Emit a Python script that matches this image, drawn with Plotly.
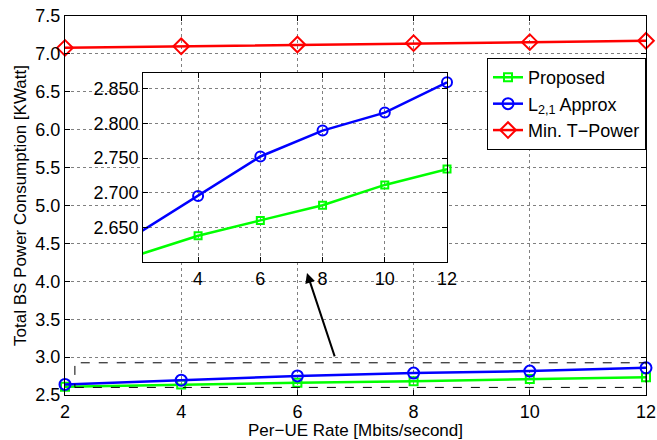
import plotly.graph_objects as go

# ---- data ----
rate = [2, 4, 6, 8, 10, 12]
proposed = [2.610, 2.6385, 2.6606, 2.6824, 2.7115, 2.7342]
l21_approx = [2.640, 2.6957, 2.7523, 2.7894, 2.8152, 2.8586]
min_t_power = [7.08, 7.10, 7.124, 7.142, 7.155, 7.173]

main_yticks = [2.5, 3.0, 3.5, 4.0, 4.5, 5.0, 5.5, 6.0, 6.5, 7.0, 7.5]
inset_yticks = [2.65, 2.70, 2.75, 2.80, 2.85]
inset_xticks = [4, 6, 8, 10, 12]

GREEN = "#00FF00"
BLUE = "#0000FF"
RED = "#FF0000"
FONT = "Liberation Sans"
FS = 18

fig = go.Figure()

series = [
    ("Proposed", proposed, GREEN, "square-open", 8),
    ("L<sub>2,1</sub> Approx", l21_approx, BLUE, "circle-open", 11),
    ("Min. T\u2212Power", min_t_power, RED, "diamond-open", 12),
]

for name, vals, col, sym, ms in series:
    fig.add_trace(go.Scatter(
        x=rate, y=vals, name=name, mode="lines+markers",
        line=dict(color=col, width=2.5),
        marker=dict(symbol=sym, size=ms, color=col, line=dict(color=col, width=2)),
        cliponaxis=False, xaxis="x", yaxis="y",
    ))

# inset (zoom of the two lower curves)
for name, vals, col, sym, ms in series[:2]:
    fig.add_trace(go.Scatter(
        x=rate, y=vals, mode="lines", showlegend=False,
        line=dict(color=col, width=2.5), xaxis="x2", yaxis="y2",
    ))
    fig.add_trace(go.Scatter(
        x=rate[1:], y=vals[1:], mode="markers", showlegend=False,
        marker=dict(symbol=sym, size=ms - 1, color=col, line=dict(color=col, width=2)),
        cliponaxis=False, xaxis="x2", yaxis="y2",
    ))

grid = dict(showgrid=True, gridcolor="#808080", griddash="dot", gridwidth=1)
axcommon = dict(showline=True, linecolor="black", linewidth=1, mirror="ticks",
                ticks="inside", ticklen=5, tickcolor="black", zeroline=False,
                automargin=False, ticklabeloverflow="allow",
                tickfont=dict(family=FONT, size=FS, color="black"), **grid)

fig.update_layout(
    width=657, height=440,
    margin=dict(l=65, r=11, t=16, b=45, autoexpand=False),
    paper_bgcolor="white", plot_bgcolor="white",
    font=dict(family=FONT, size=FS, color="black"),
    xaxis=dict(range=[2, 12], tickvals=rate, domain=[0, 1],
               title=dict(text="Per\u2212UE Rate [Mbits/second]", font=dict(size=FS - 1), standoff=2),
               **axcommon),
    yaxis=dict(range=[2.5, 7.5], tickvals=main_yticks, tickformat=".1f", domain=[0, 1],
               title=dict(text="Total BS Power Consumption [KWatt]", font=dict(size=FS - 1), standoff=4),
               **axcommon),
    xaxis2=dict(range=[2.23, 12], tickvals=inset_xticks, domain=[0.1343, 0.6575], anchor="y2",
                **axcommon),
    yaxis2=dict(range=[2.601, 2.872], tickvals=inset_yticks, tickformat=".3f",
                domain=[0.351, 0.8496], anchor="x2", **axcommon),
    legend=dict(x=1, xanchor="right", y=0.889, yanchor="top", bgcolor="white",
                bordercolor="black", borderwidth=1, font=dict(family=FONT, size=FS),
                tracegroupgap=0, itemwidth=30),
    showlegend=True,
)

fig.add_shape(type="rect", xref="x", yref="y", x0=2.17, x1=12, y0=2.60, y1=2.925,
              line=dict(color="black", width=1, dash="dash"))

fig.add_annotation(x=6.165, y=4.11, ax=6.65, ay=2.99, xref="x", yref="y",
                   axref="x", ayref="y", text="", showarrow=True,
                   arrowhead=2, arrowsize=1, arrowwidth=2, arrowcolor="black")

# remove the browser's default body margin so the figure fills the window exactly
fig.write_html("out.html",
               config={"displayModeBar": False},
               post_script="document.body.style.margin='0';document.body.style.overflow='hidden';")
